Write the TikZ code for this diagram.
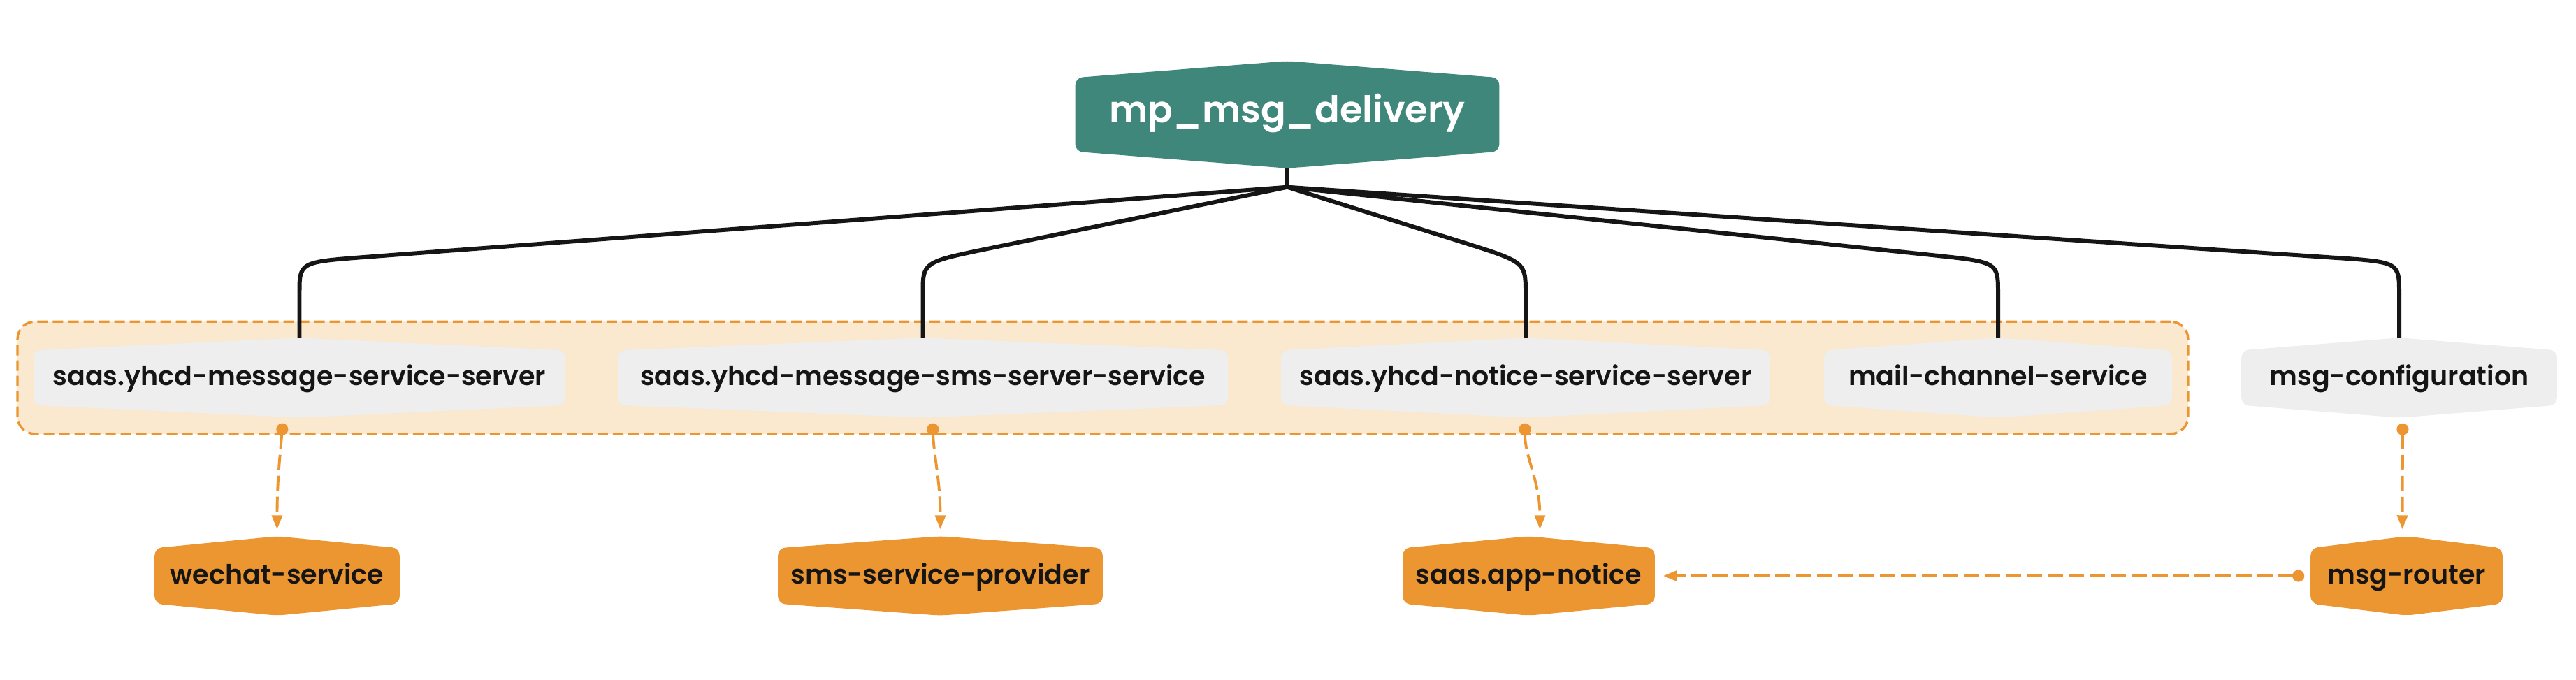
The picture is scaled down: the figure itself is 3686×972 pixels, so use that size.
\documentclass[tikz,border=0pt]{standalone}
\usepackage{fontspec}
\setmainfont{Poppins}[UprightFont=* SemiBold, BoldFont=* SemiBold]
\usetikzlibrary{calc}
\usetikzlibrary{positioning}
\usetikzlibrary{fit}
\usetikzlibrary{arrows.meta}

\definecolor{rootgreen}{RGB}{62,135,122}
\definecolor{svcgray}{RGB}{238,238,238}
\definecolor{extorange}{RGB}{236,150,50}
\definecolor{grpfill}{RGB}{250,232,207}
\definecolor{inkblack}{RGB}{21,21,21}

\pgfdeclarelayer{cluster}
\pgfdeclarelayer{links}
\pgfdeclarelayer{shapes}
\pgfsetlayers{cluster,links,shapes,main}

% pointed box behind a node
\newcommand{\hexfill}[3]{%
  \begin{pgfonlayer}{shapes}
    \fill [#2, rounded corners=3pt] (#1.north) -- ($(#1.north east)+(0,#3)$)
      -- ($(#1.south east)+(0,-#3)$) -- (#1.south)
      -- ($(#1.south west)+(0,-#3)$) -- ($(#1.north west)+(0,#3)$) -- cycle;
  \end{pgfonlayer}}

\begin{document}
\begin{tikzpicture} [x=0.01cm, y=-0.01cm,
    box/.style = {inner sep=0pt, text height=0.8em, text depth=0.17em},
    svc/.style = {box, text=inkblack, font=\fontsize{10.8}{14}\selectfont,
        minimum height=1.13cm},
    ext/.style = {svc, minimum height=1.12cm},
    link/.style = {draw=inkblack, line width=1.7pt},
    call/.style = {draw=extorange, line width=1.1pt,
        dash pattern=on 0.22cm off 0.08cm,
        {Circle[length=0.17cm]}-{Triangle[length=0.2cm,width=0.15cm]}},
    group/.style = {fill=grpfill, draw=extorange, line width=0.95pt,
        dash pattern=on 0.15cm off 0.07cm, rounded corners=7pt,
        inner sep=0.23cm}]

\useasboundingbox (0,0) rectangle (3686,972);

% root
\node [box, text=white, font=\fontsize{15}{19}\selectfont\bfseries,
    minimum width=6.05cm, minimum height=1.52cm] (root) at (1842,164)
    {mp\_msg\_delivery};
\hexfill{root}{rootgreen}{24}

% services
\node [svc, minimum width=7.59cm] (msgsrv) at (428.5,540.5) {saas.yhcd-message-service-server};
\node [svc, minimum width=8.71cm] (smssrv) at (1320.5,540.5) {saas.yhcd-message-sms-server-service};
\node [svc, minimum width=6.98cm] (notice) at (2183,540.5) {saas.yhcd-notice-service-server};
\node [svc, minimum width=4.96cm] (mail) at (2859,540.5) {mail-channel-service};
\node [svc, minimum width=4.50cm] (config) at (3433,540.5) {msg-configuration};

\foreach \n in {msgsrv,smssrv,notice,mail,config}
  \hexfill{\n}{svcgray}{18};

% group
\begin{pgfonlayer}{cluster}
\node [group, fit=(msgsrv)(mail)] (grp) {};
\end{pgfonlayer}

% external
\node [ext, minimum width=3.49cm] (wechat) at (396.5,824) {wechat-service};
\node [ext, minimum width=4.63cm] (provider) at (1345.5,824) {sms-service-provider};
\node [ext, minimum width=3.59cm] (appnotice) at (2187.5,824) {saas.app-notice};
\node [ext, minimum width=2.73cm] (router) at (3443.5,824) {msg-router};

\foreach \n in {wechat,provider,appnotice,router}
  \hexfill{\n}{extorange}{17};

% tree lines
\coordinate (hub) at ($(root.south)+(0,27)$);
\coordinate (bar) at (0,375);

\begin{pgfonlayer}{links}
\draw [link] (root.south) -- (hub);
\foreach \t in {msgsrv,smssrv,notice,mail,config}
  \draw [link] (hub) -- ($(\t.north |- bar)!0.95cm!(hub)$)
    .. controls (\t.north |- bar) .. ($(\t.north |- bar)+(0,45)$) -- (\t.north);
\end{pgfonlayer}

% calls
\draw [call] ($(msgsrv.south)+(-24,8)$) .. controls +(-4,50) and +(0,-70) .. ($(wechat.north)+(0,-10)$);
\draw [call] ($(smssrv.south)+(14,8)$) .. controls +(2,50) and +(0,-70) .. ($(provider.north)+(0,-10)$);
\draw [call] ($(notice.south)+(-1,8)$) .. controls +(0,50) and +(0,-70) .. ($(appnotice.north)+(16,-10)$);
\draw [call] ($(config.south)+(5,8)$) -- ($(router.north)+(-6,-10)$);
\draw [call] ($(router.west)+(-9,0)$) -- ($(appnotice.east)+(12,0)$);

\end{tikzpicture}
\end{document}
